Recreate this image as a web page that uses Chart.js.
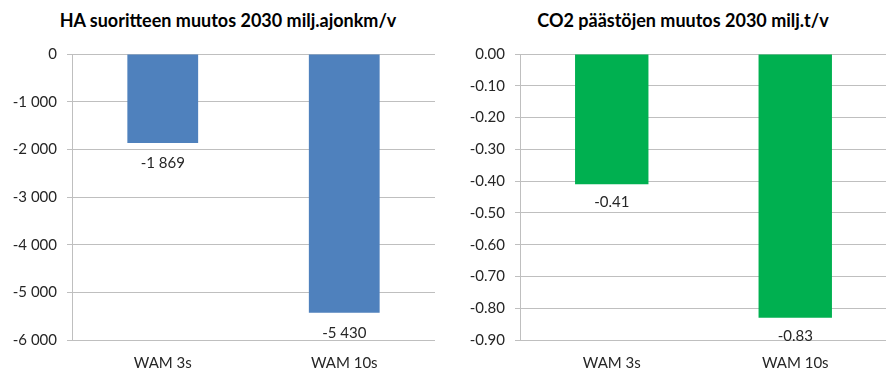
<!DOCTYPE html>
<html>
<head>
<meta charset="utf-8">
<script src="https://cdn.jsdelivr.net/npm/chart.js@4/dist/chart.umd.min.js"></script>
<style>
    html, body { margin: 0; padding: 0; background: #fff; overflow: hidden; }
    body { width: 886px; height: 372px; position: relative; font-family: Lato, sans-serif; }
    .panel { position: absolute; top: 0; height: 372px; }
    .chart-title {
        position: absolute; top: 9px; white-space: nowrap;
        font: bold 18px Lato, sans-serif; color: #000;
        transform: translateX(-50%);
    }
</style>
</head>
<body>
<div class="chart-title" style="left:228px">HA suoritteen muutos 2030 milj.ajonkm/v</div>
<div class="chart-title" style="left:683px">CO2 päästöjen muutos 2030 milj.t/v</div>
<div class="panel" style="left:0;width:443px"><canvas id="ha-chart" width="443" height="372"></canvas></div>
<div class="panel" style="left:443px;width:452px"><canvas id="co2-chart" width="452" height="372"></canvas></div>
<script>
const categories = ['WAM 3s', 'WAM 10s'];
const haValues = [-1869, -5430];
const co2Values = [-0.41, -0.83];

const GRID = '#bfbfbf';
const TEXT = '#262626';
const FONT = { family: 'Lato, sans-serif', size: 15 };

const fmtThousands = v => {
    const s = Math.abs(Math.round(v)).toString().replace(/\B(?=(\d{3})+(?!\d))/g, ' ');
    return (v < 0 ? '-' : '') + s;
};

// draws value labels under the end of each bar
const valueLabels = {
    id: 'valueLabels',
    afterDatasetsDraw(chart, args, opts) {
        const ctx = chart.ctx;
        const meta = chart.getDatasetMeta(0);
        const data = chart.data.datasets[0].data;
        ctx.save();
        ctx.font = `${FONT.size}px ${FONT.family}`;
        ctx.fillStyle = TEXT;
        ctx.textAlign = 'center';
        ctx.textBaseline = 'middle';
        meta.data.forEach((bar, i) => {
            ctx.fillText(opts.format(data[i]), bar.x, bar.y + opts.offset);
        });
        ctx.restore();
    }
};

function makeChart(id, values, color, yMin, step, axisWidth, barPct, fmt, offset) {
    return new Chart(document.getElementById(id), {
        type: 'bar',
        data: {
            labels: categories,
            datasets: [{
                data: values,
                backgroundColor: color,
                borderWidth: 0,
                categoryPercentage: 1,
                barPercentage: barPct
            }]
        },
        options: {
            responsive: false,
            animation: false,
            layout: { padding: { top: 54, right: 8, bottom: 0, left: 0 } },
            plugins: {
                legend: { display: false },
                tooltip: { enabled: false },
                valueLabels: { format: fmt, offset }
            },
            scales: {
                x: {
                    afterFit: scale => { scale.height = 32; },
                    grid: { display: false, drawTicks: false },
                    border: { display: false },
                    ticks: { color: TEXT, font: FONT, padding: 14 }
                },
                y: {
                    min: yMin,
                    max: 0,
                    afterFit: scale => { scale.width = axisWidth; },
                    grid: { color: GRID, tickLength: 5 },
                    border: { color: GRID },
                    ticks: { stepSize: step, color: TEXT, font: FONT, padding: 10, callback: fmt }
                }
            }
        },
        plugins: [valueLabels]
    });
}

makeChart('ha-chart', haValues, '#4f81bd', -6000, 1000, 72, 0.39, fmtThousands, 20);
makeChart('co2-chart', co2Values, '#00b050', -0.9, 0.1, 77, 0.40, v => Number(v).toFixed(2), 18);
</script>
</body>
</html>
